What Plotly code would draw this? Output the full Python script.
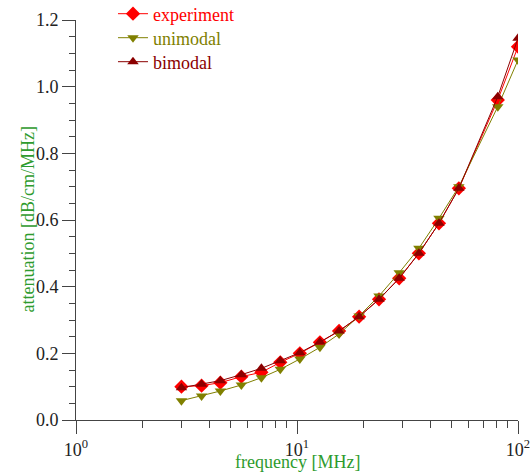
import plotly.graph_objects as go

freq = [3.0, 3.7, 4.5, 5.6, 6.9, 8.4, 10.3, 12.7, 15.5, 19.1, 23.5, 29.0, 35.6, 43.9, 54.0, 81.0, 100.0]
experiment = [0.100, 0.103, 0.112, 0.130, 0.143, 0.173, 0.200, 0.233, 0.267, 0.310, 0.362, 0.425, 0.500, 0.590, 0.695, 0.960, 1.120]
unimodal = [0.058, 0.072, 0.087, 0.105, 0.127, 0.152, 0.183, 0.218, 0.258, 0.312, 0.372, 0.442, 0.515, 0.605, 0.700, 0.940, 1.080]
bimodal = [0.097, 0.107, 0.118, 0.136, 0.155, 0.178, 0.202, 0.234, 0.267, 0.310, 0.362, 0.425, 0.500, 0.590, 0.695, 0.970, 1.145]

x_tickvals = [1, 10, 100]
x_ticktext = ["10<sup>0</sup>", "10<sup>1</sup>", "10<sup>2</sup>"]
x_minor = [2, 3, 4, 5, 6, 7, 8, 9, 20, 30, 40, 50, 60, 70, 80, 90]

FONT = "Liberation Serif, Times New Roman, serif"
RED = "#FF0000"
OLIVE = "#808000"
DARKRED = "#8B0000"
GREEN = "#2E9B2E"
W, H = 531, 476
ML, MR, MT, MB = 76, 13, 20, 56
PW, PH = W - ML - MR, H - MT - MB

fig = go.Figure()
fig.add_trace(go.Scatter(x=freq, y=experiment, mode="lines+markers", legend="legend",
                         name=f"<span style='color:{RED}'>experiment</span>",
                         line=dict(color=RED, width=1),
                         marker=dict(symbol="diamond", size=11, color=RED)))
fig.add_trace(go.Scatter(x=freq, y=unimodal, mode="lines+markers", legend="legend2",
                         name=f"<span style='color:{OLIVE}'>unimodal</span>",
                         line=dict(color=OLIVE, width=1),
                         marker=dict(symbol="triangle-down", size=10, color=OLIVE)))
fig.add_trace(go.Scatter(x=freq, y=bimodal, mode="lines+markers", legend="legend3",
                         name=f"<span style='color:{DARKRED}'>bimodal</span>",
                         line=dict(color=DARKRED, width=1),
                         marker=dict(symbol="triangle-up", size=10, color=DARKRED)))

def leg(yc):
    return dict(x=0.0837, y=1 - yc / H, xref="paper", yref="container",
                xanchor="left", yanchor="middle",
                bgcolor="rgba(0,0,0,0)", font=dict(family=FONT, size=18))

fig.update_layout(
    width=W, height=H,
    margin=dict(l=ML, r=MR, t=MT, b=MB, autoexpand=False),
    paper_bgcolor="white", plot_bgcolor="white",
    font=dict(family=FONT, size=18, color="#222222"),
    showlegend=True,
    legend=leg(14), legend2=leg(38), legend3=leg(62),
    annotations=[
        dict(text="frequency [MHz]", x=0.5, y=(H - MB - 462) / PH, xref="paper", yref="paper",
             xanchor="center", yanchor="middle", showarrow=False,
             font=dict(family=FONT, size=18, color=GREEN)),
        dict(text="attenuation [dB/cm/MHz]", x=(27.5 - ML) / PW, y=0.5, xref="paper", yref="paper",
             xanchor="center", yanchor="middle", showarrow=False, textangle=-90,
             font=dict(family=FONT, size=18, color=GREEN)),
    ],
)
fig.update_xaxes(type="log", range=[0, 2], showgrid=False, zeroline=False, automargin=False,
                 showline=True, linecolor="#444444", linewidth=1,
                 tickmode="array", tickvals=x_tickvals, ticktext=x_ticktext,
                 ticks="outside", ticklen=13, tickcolor="#444444",
                 minor=dict(tickmode="array", tickvals=x_minor, ticks="outside", ticklen=7, tickcolor="#444444"))
fig.update_yaxes(range=[0, 1.2], showgrid=False, zeroline=False, automargin=False,
                 showline=True, linecolor="#444444", linewidth=1,
                 dtick=0.2, tickformat=".1f",
                 ticks="outside", ticklen=13, tickcolor="#444444",
                 minor=dict(dtick=0.05, ticks="outside", ticklen=6, tickcolor="#444444"))

fig.write_html("out.html")
